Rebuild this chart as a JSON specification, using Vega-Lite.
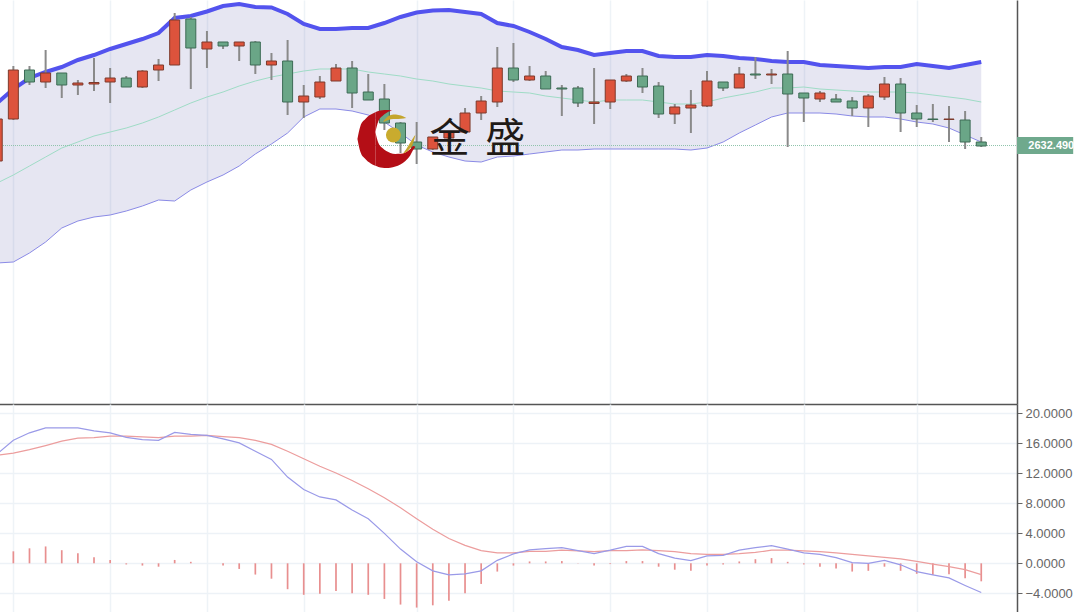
{"$schema":"https://vega.github.io/schema/vega-lite/v6.json","background":"white","padding":{"left":-2,"top":0,"right":0,"bottom":0},"spacing":0,"bounds":"flush","config":{"view":{"stroke":null},"axis":{"title":null}},
"datasets":{"k":[
{"i":0,"open":2624.75,"close":2645.75,"high":2645.75,"low":2624.75,"dir":"rise","upper":2653.75,"mid":2613.75,"lower":2573.75,"dif":14.6,"dea":14.4,"hist":1.2},
{"i":1,"open":2645.75,"close":2670.25,"high":2672.25,"low":2645.25,"dir":"rise","upper":2660.75,"mid":2617.75,"lower":2574.25,"dif":16.4,"dea":14.7,"hist":1.6},
{"i":2,"open":2670.25,"close":2664.25,"high":2672.25,"low":2662.75,"dir":"fall","upper":2666.25,"mid":2622.25,"lower":2578.75,"dif":17.4,"dea":15.15,"hist":2.0},
{"i":3,"open":2664.25,"close":2668.75,"high":2680.25,"low":2661.25,"dir":"rise","upper":2669.25,"mid":2626.75,"lower":2584.25,"dif":18.05,"dea":15.7,"hist":2.25},
{"i":4,"open":2668.75,"close":2662.75,"high":2668.75,"low":2656.25,"dir":"fall","upper":2671.75,"mid":2631.25,"lower":2591.25,"dif":18.05,"dea":16.3,"hist":1.75},
{"i":5,"open":2662.75,"close":2663.75,"high":2665.25,"low":2657.75,"dir":"rise","upper":2675.25,"mid":2634.25,"lower":2594.75,"dif":18.05,"dea":16.7,"hist":1.35},
{"i":6,"open":2663.25,"close":2664,"high":2676.25,"low":2659.75,"dir":"rise","upper":2677.75,"mid":2637.25,"lower":2596.75,"dif":17.65,"dea":16.75,"hist":0.8},
{"i":7,"open":2664.25,"close":2666.25,"high":2671.25,"low":2653.75,"dir":"rise","upper":2680.75,"mid":2639.25,"lower":2597.75,"dif":17.4,"dea":16.95,"hist":0.45},
{"i":8,"open":2666.25,"close":2661.75,"high":2667.25,"low":2661.75,"dir":"fall","upper":2683.25,"mid":2641.25,"lower":2599.75,"dif":16.8,"dea":16.95,"hist":-0.15},
{"i":9,"open":2661.75,"close":2669.75,"high":2670.25,"low":2661.25,"dir":"rise","upper":2685.75,"mid":2643.75,"lower":2602.25,"dif":16.5,"dea":16.85,"hist":-0.3},
{"i":10,"open":2670.25,"close":2672.75,"high":2675.75,"low":2664.75,"dir":"rise","upper":2688.75,"mid":2646.75,"lower":2605.25,"dif":16.4,"dea":16.75,"hist":-0.45},
{"i":11,"open":2672.75,"close":2695.25,"high":2698.75,"low":2672.75,"dir":"rise","upper":2696.25,"mid":2650.25,"lower":2604.75,"dif":17.45,"dea":16.95,"hist":0.45},
{"i":12,"open":2695.75,"close":2681.25,"high":2696.75,"low":2660.75,"dir":"fall","upper":2697.25,"mid":2653.75,"lower":2610.25,"dif":17.2,"dea":16.95,"hist":0.2},
{"i":13,"open":2680.75,"close":2684.25,"high":2689.75,"low":2671.25,"dir":"rise","upper":2699.5,"mid":2656.75,"lower":2614.25,"dif":17.05,"dea":17.05,"hist":0},
{"i":14,"open":2684.25,"close":2682.25,"high":2684.25,"low":2680.75,"dir":"fall","upper":2702.25,"mid":2659.25,"lower":2617.75,"dif":16.6,"dea":16.9,"hist":-0.3},
{"i":15,"open":2682.25,"close":2684.25,"high":2684.25,"low":2674.75,"dir":"rise","upper":2703.25,"mid":2662.25,"lower":2622.25,"dif":16.05,"dea":16.75,"hist":-0.75},
{"i":16,"open":2684.25,"close":2672.75,"high":2684.75,"low":2668.25,"dir":"fall","upper":2701.75,"mid":2664.75,"lower":2628.25,"dif":14.95,"dea":16.4,"hist":-1.5},
{"i":17,"open":2672.75,"close":2674.75,"high":2678.75,"low":2665.25,"dir":"rise","upper":2701.5,"mid":2666.75,"lower":2633.25,"dif":13.85,"dea":15.85,"hist":-2.05},
{"i":18,"open":2674.75,"close":2654.25,"high":2685.25,"low":2647.75,"dir":"fall","upper":2698.25,"mid":2668.25,"lower":2638.75,"dif":11.5,"dea":14.95,"hist":-3.45},
{"i":19,"open":2654.25,"close":2657.25,"high":2662.75,"low":2646.25,"dir":"rise","upper":2693.25,"mid":2669.75,"lower":2646.75,"dif":9.85,"dea":13.95,"hist":-4.2},
{"i":20,"open":2656.75,"close":2664.25,"high":2667.25,"low":2655.75,"dir":"rise","upper":2690.75,"mid":2670.75,"lower":2650.75,"dif":8.85,"dea":12.95,"hist":-4.05},
{"i":21,"open":2664.75,"close":2671.25,"high":2673.25,"low":2664.75,"dir":"rise","upper":2690.75,"mid":2670.75,"lower":2650.75,"dif":8.45,"dea":12.05,"hist":-3.7},
{"i":22,"open":2671.25,"close":2658.75,"high":2674.75,"low":2651.25,"dir":"fall","upper":2691.25,"mid":2670.75,"lower":2649.75,"dif":7.1,"dea":11.05,"hist":-4},
{"i":23,"open":2659.25,"close":2655.25,"high":2668.25,"low":2655.25,"dir":"fall","upper":2691.25,"mid":2669.25,"lower":2647.75,"dif":5.95,"dea":9.95,"hist":-4.2},
{"i":24,"open":2655.75,"close":2643.75,"high":2663.25,"low":2640.25,"dir":"fall","upper":2693.75,"mid":2668.25,"lower":2644.25,"dif":4.0,"dea":8.75,"hist":-4.75},
{"i":25,"open":2643.75,"close":2633.75,"high":2644.25,"low":2628.75,"dir":"fall","upper":2696.75,"mid":2667.25,"lower":2638.75,"dif":1.9,"dea":7.4,"hist":-5.5},
{"i":26,"open":2634.25,"close":2630.75,"high":2644.25,"low":2623.25,"dir":"fall","upper":2699,"mid":2665.75,"lower":2632.75,"dif":0.2,"dea":5.95,"hist":-5.9},
{"i":27,"open":2630.75,"close":2636.75,"high":2636.75,"low":2630.25,"dir":"rise","upper":2700,"mid":2664.75,"lower":2629.25,"dif":-1.0,"dea":4.55,"hist":-5.6},
{"i":28,"open":2636.25,"close":2639.25,"high":2639.25,"low":2636.25,"dir":"rise","upper":2700.25,"mid":2663.25,"lower":2626.75,"dif":-1.55,"dea":3.3,"hist":-5},
{"i":29,"open":2639.25,"close":2648.75,"high":2651.25,"low":2639.25,"dir":"rise","upper":2699.25,"mid":2662.25,"lower":2624.75,"dif":-1.4,"dea":2.4,"hist":-4},
{"i":30,"open":2648.75,"close":2654.75,"high":2657.25,"low":2645.25,"dir":"rise","upper":2698.25,"mid":2661.25,"lower":2624.25,"dif":-1.0,"dea":1.7,"hist":-2.75},
{"i":31,"open":2654.25,"close":2671.25,"high":2681.75,"low":2651.75,"dir":"rise","upper":2693.75,"mid":2659.75,"lower":2626.75,"dif":0.4,"dea":1.4,"hist":-1.1},
{"i":32,"open":2671.25,"close":2665.25,"high":2683.75,"low":2664.25,"dir":"fall","upper":2692.25,"mid":2659.25,"lower":2627.25,"dif":1.25,"dea":1.4,"hist":-0.3},
{"i":33,"open":2665.25,"close":2667.25,"high":2672.25,"low":2664.75,"dir":"rise","upper":2689.25,"mid":2658.75,"lower":2628.25,"dif":1.8,"dea":1.6,"hist":0.25},
{"i":34,"open":2667.25,"close":2660.75,"high":2669.75,"low":2660.75,"dir":"fall","upper":2685.75,"mid":2657.25,"lower":2629.25,"dif":1.95,"dea":1.6,"hist":0.25},
{"i":35,"open":2661.25,"close":2660.75,"high":2662.75,"low":2647.25,"dir":"fall","upper":2681.75,"mid":2656.25,"lower":2630.25,"dif":2.1,"dea":1.75,"hist":0.3},
{"i":36,"open":2661.25,"close":2653.75,"high":2662.25,"low":2651.75,"dir":"fall","upper":2680.25,"mid":2655.25,"lower":2630.25,"dif":1.7,"dea":1.65,"hist":0.05},
{"i":37,"open":2653.5,"close":2654.25,"high":2671.25,"low":2643.25,"dir":"rise","upper":2677.75,"mid":2654.25,"lower":2630.75,"dif":1.3,"dea":1.55,"hist":-0.3},
{"i":38,"open":2654.25,"close":2665.25,"high":2665.25,"low":2650.75,"dir":"rise","upper":2678.75,"mid":2655.25,"lower":2630.75,"dif":1.75,"dea":1.7,"hist":-0.1},
{"i":39,"open":2664.75,"close":2667.25,"high":2668.25,"low":2664.25,"dir":"rise","upper":2679.75,"mid":2655.25,"lower":2630.75,"dif":2.25,"dea":1.7,"hist":0.3},
{"i":40,"open":2667.25,"close":2661.75,"high":2671.25,"low":2658.75,"dir":"fall","upper":2679.75,"mid":2655.25,"lower":2630.75,"dif":2.25,"dea":1.8,"hist":0.3},
{"i":41,"open":2662.25,"close":2648.25,"high":2664.25,"low":2646.25,"dir":"fall","upper":2677.25,"mid":2654.25,"lower":2630.75,"dif":1.3,"dea":1.7,"hist":-0.45},
{"i":42,"open":2648.25,"close":2651.75,"high":2653.25,"low":2643.25,"dir":"rise","upper":2676.75,"mid":2653.25,"lower":2630.75,"dif":0.7,"dea":1.55,"hist":-0.85},
{"i":43,"open":2651.25,"close":2652.75,"high":2660.25,"low":2638.75,"dir":"rise","upper":2676.75,"mid":2653.25,"lower":2630.25,"dif":0.35,"dea":1.3,"hist":-1},
{"i":44,"open":2652.25,"close":2664.75,"high":2669.75,"low":2651.75,"dir":"rise","upper":2677.75,"mid":2654.25,"lower":2631.25,"dif":1.0,"dea":1.2,"hist":-0.3},
{"i":45,"open":2664.25,"close":2661.25,"high":2664.25,"low":2659.75,"dir":"fall","upper":2677.25,"mid":2656.25,"lower":2634.25,"dif":1.05,"dea":1.2,"hist":-0.15},
{"i":46,"open":2661.25,"close":2668.25,"high":2671.75,"low":2661.25,"dir":"rise","upper":2676.25,"mid":2657.75,"lower":2638.75,"dif":1.75,"dea":1.3,"hist":0.25},
{"i":47,"open":2668.25,"close":2667.75,"high":2676.75,"low":2665.75,"dir":"fall","upper":2675.75,"mid":2659.25,"lower":2642.75,"dif":2.1,"dea":1.45,"hist":0.55},
{"i":48,"open":2667.75,"close":2668.25,"high":2670.75,"low":2663.25,"dir":"rise","upper":2674.75,"mid":2661.25,"lower":2646.75,"dif":2.35,"dea":1.75,"hist":0.7},
{"i":49,"open":2668.25,"close":2658.25,"high":2679.75,"low":2631.75,"dir":"fall","upper":2674.25,"mid":2661.25,"lower":2648.75,"dif":1.9,"dea":1.75,"hist":0.2},
{"i":50,"open":2658.75,"close":2656.25,"high":2658.75,"low":2644.25,"dir":"fall","upper":2674.25,"mid":2661.75,"lower":2648.75,"dif":1.4,"dea":1.65,"hist":-0.15},
{"i":51,"open":2655.75,"close":2658.75,"high":2659.75,"low":2654.25,"dir":"rise","upper":2672.75,"mid":2660.75,"lower":2648.75,"dif":1.2,"dea":1.55,"hist":-0.45},
{"i":52,"open":2655.75,"close":2654.25,"high":2658.25,"low":2654.25,"dir":"fall","upper":2672.25,"mid":2660.25,"lower":2648.25,"dif":0.75,"dea":1.4,"hist":-0.7},
{"i":53,"open":2654.75,"close":2651.25,"high":2656.75,"low":2647.25,"dir":"fall","upper":2671.75,"mid":2659.75,"lower":2647.25,"dif":0.1,"dea":1.2,"hist":-1.1},
{"i":54,"open":2651.25,"close":2657.25,"high":2658.25,"low":2641.75,"dir":"rise","upper":2671.25,"mid":2659.25,"lower":2646.75,"dif":0,"dea":1,"hist":-1},
{"i":55,"open":2656.75,"close":2663.25,"high":2666.75,"low":2655.25,"dir":"rise","upper":2671.75,"mid":2659.25,"lower":2646.75,"dif":0.4,"dea":0.8,"hist":-0.45},
{"i":56,"open":2663.25,"close":2648.75,"high":2666.25,"low":2639.25,"dir":"fall","upper":2671.75,"mid":2659.25,"lower":2645.75,"dif":-0.2,"dea":0.6,"hist":-1},
{"i":57,"open":2648.75,"close":2645.75,"high":2652.75,"low":2641.75,"dir":"fall","upper":2673.25,"mid":2658.75,"lower":2644.25,"dif":-1.1,"dea":0.25,"hist":-1.4},
{"i":58,"open":2645.75,"close":2645.5,"high":2653.25,"low":2644.25,"dir":"fall","upper":2672.25,"mid":2657.75,"lower":2643.25,"dif":-1.55,"dea":-0.1,"hist":-1.55},
{"i":59,"open":2645.5,"close":2645.75,"high":2652.25,"low":2634.25,"dir":"rise","upper":2671.25,"mid":2656.75,"lower":2641.25,"dif":-1.95,"dea":-0.45,"hist":-1.45},
{"i":60,"open":2645.25,"close":2634.25,"high":2649.75,"low":2630.75,"dir":"fall","upper":2672.75,"mid":2655.75,"lower":2637.75,"dif":-2.95,"dea":-0.85,"hist":-2},
{"i":61,"open":2634.25,"close":2632.25,"high":2636.75,"low":2631.75,"dir":"fall","upper":2674.25,"mid":2654.25,"lower":2634.25,"dif":-3.9,"dea":-1.5,"hist":-2.4}
],
"crescent":[
{"piece":"left","i":22.33,"a":2635.75,"b":2635.75},{"piece":"left","i":22.51,"a":2642.15,"b":2629.35},{"piece":"left","i":22.82,"a":2645.75,"b":2625.75},{"piece":"left","i":23.13,"a":2647.85,"b":2623.65},{"piece":"left","i":23.44,"a":2649.15,"b":2622.35},
{"piece":"top","i":23.44,"a":2649.15,"b":2639.25},{"piece":"top","i":23.63,"a":2649.7,"b":2644.8},{"piece":"top","i":23.88,"a":2650.1,"b":2647.3},{"piece":"top","i":24.12,"a":2650.25,"b":2648.75},{"piece":"top","i":24.37,"a":2650.1,"b":2649.7},{"piece":"top","i":24.5,"a":2649.95,"b":2649.95},
{"piece":"bottom","i":23.44,"a":2639.25,"b":2622.35},{"piece":"bottom","i":23.63,"a":2633.7,"b":2621.8},{"piece":"bottom","i":23.88,"a":2631.2,"b":2621.4},{"piece":"bottom","i":24.12,"a":2629.75,"b":2621.25},{"piece":"bottom","i":24.37,"a":2628.8,"b":2621.4},{"piece":"bottom","i":24.68,"a":2628.3,"b":2621.95},{"piece":"bottom","i":24.99,"a":2628.35,"b":2623.05},{"piece":"bottom","i":25.3,"a":2629,"b":2624.8},{"piece":"bottom","i":25.61,"a":2630.75,"b":2627.6},{"piece":"bottom","i":25.8,"a":2632.25,"b":2630.45},{"piece":"bottom","i":25.92,"a":2631.75,"b":2631.75}],
"swoosh":[
{"piece":"upper","i":23.94,"a":2644.75,"b":2644.25},{"piece":"upper","i":24.25,"a":2647.25,"b":2645.25},{"piece":"upper","i":24.56,"a":2648,"b":2645.75},{"piece":"upper","i":24.87,"a":2647.75,"b":2645.75},{"piece":"upper","i":25.18,"a":2647,"b":2646},{"piece":"upper","i":25.36,"a":2646.25,"b":2646.25},
{"piece":"lower","i":25.18,"a":2628.75,"b":2628.5},{"piece":"lower","i":25.36,"a":2630.75,"b":2629.25},{"piece":"lower","i":25.55,"a":2633.25,"b":2630.75},{"piece":"lower","i":25.74,"a":2635.75,"b":2632.75},{"piece":"lower","i":25.86,"a":2637.25,"b":2635.75},{"piece":"lower","i":25.92,"a":2637.75,"b":2637.75}]
},
"vconcat":[
{"width":1018,"height":404,
"encoding":{"x":{"field":"i","type":"quantitative","scale":{"domain":[0.11,63.216],"nice":false,"zero":false,"padding":0},"axis":{"values":[1,7,13,19,26,32,38,44,50,57],"grid":true,"gridColor":"#eef3f7","gridWidth":1.5,"ticks":false,"labels":false,"domainColor":"#555555","domainWidth":1.5}}},
"layer":[
{"data":{"name":"k"},"mark":{"type":"area","color":"#3f3f9b","opacity":0.13,"clip":true},"encoding":{"y":{"field":"upper","type":"quantitative","scale":{"domain":[2503.25,2705.25],"nice":false,"zero":false},"axis":{"orient":"right","ticks":false,"labels":false,"grid":false,"domainColor":"#555555","domainWidth":1.5}},"y2":{"field":"lower"}}},
{"data":{"name":"k"},"mark":{"type":"line","color":"#9fdcc6","strokeWidth":1,"clip":true},"encoding":{"y":{"field":"mid","type":"quantitative"}}},
{"data":{"name":"k"},"mark":{"type":"line","color":"#8a8ae6","strokeWidth":1,"clip":true},"encoding":{"y":{"field":"lower","type":"quantitative"}}},
{"data":{"name":"k"},"mark":{"type":"line","color":"#5353ee","strokeWidth":4,"clip":true},"encoding":{"y":{"field":"upper","type":"quantitative"}}},
{"data":{"values":[{"last":2632.49}]},"mark":{"type":"rule","color":"#8fc4ab","strokeWidth":1,"strokeDash":[1,1]},"encoding":{"x":{"value":0},"x2":{"value":1018},"y":{"field":"last","type":"quantitative"}}},
{"data":{"name":"k"},"mark":{"type":"rule","color":"#8a8a8a","strokeWidth":2,"clip":true},"encoding":{"y":{"field":"high","type":"quantitative"},"y2":{"field":"low"}}},
{"data":{"name":"k"},"mark":{"type":"bar","width":10,"strokeWidth":1,"clip":true},"encoding":{"y":{"field":"open","type":"quantitative"},"y2":{"field":"close"},"fill":{"field":"dir","type":"nominal","legend":null,"scale":{"domain":["rise","fall"],"range":["#dd533c","#6aa687"]}},"stroke":{"field":"dir","type":"nominal","legend":null,"scale":{"domain":["rise","fall"],"range":["#7d3a2c","#3c6b55"]}}}},
{"data":{"name":"crescent"},"mark":{"type":"area","interpolate":"monotone","color":"#b40e16"},"encoding":{"y":{"field":"a","type":"quantitative"},"y2":{"field":"b"},"detail":{"field":"piece"}}},
{"data":{"name":"swoosh"},"mark":{"type":"area","interpolate":"monotone","color":"#c4a52c"},"encoding":{"y":{"field":"a","type":"quantitative"},"y2":{"field":"b"},"detail":{"field":"piece"}}},
{"data":{"values":[{"i":24.56,"p":2637.75}]},"mark":{"type":"circle","color":"#c9ab2e","size":225,"opacity":1},"encoding":{"y":{"field":"p","type":"quantitative"}}},
{"data":{"values":[{"i":28.03,"p":2635.25,"t":"金"},{"i":31.5,"p":2635.25,"t":"盛"}]},"mark":{"type":"text","font":"Noto Sans CJK SC","fontSize":40,"color":"#1f1a17","align":"center","baseline":"middle"},"encoding":{"y":{"field":"p","type":"quantitative"},"text":{"field":"t"}}},
{"data":{"values":[{"i":63.216,"i2":66.7,"a":2636.75,"b":2628.25}]},"mark":{"type":"rect","color":"#6fa98d"},"encoding":{"x2":{"field":"i2"},"y":{"field":"a","type":"quantitative"},"y2":{"field":"b"}}},
{"data":{"values":[{"i":63.92,"p":2632.49,"t":"2632.490"}]},"mark":{"type":"text","font":"Liberation Sans","fontWeight":"bold","fontSize":11,"color":"#ffffff","align":"left","baseline":"middle"},"encoding":{"y":{"field":"p","type":"quantitative"},"text":{"field":"t"}}}
]},
{"width":1018,"height":208,"data":{"name":"k"},
"encoding":{"x":{"field":"i","type":"quantitative","scale":{"domain":[0.11,63.216],"nice":false,"zero":false,"padding":0},"axis":{"values":[1,7,13,19,26,32,38,44,50,57],"grid":true,"gridColor":"#eef3f7","gridWidth":1.5,"ticks":false,"labels":false,"domain":false}}},
"layer":[
{"mark":{"type":"rule","color":"#e88f8f","strokeWidth":1.7,"clip":true},"encoding":{"y":{"field":"hist","type":"quantitative","scale":{"domain":[-6.49,21.24],"nice":false,"zero":false},"axis":{"orient":"right","values":[-4,0,4,8,12,16,20],"tickCount":20,"format":".4f","labelOverlap":false,"grid":true,"gridColor":"#edf2f7","gridWidth":1.5,"tickSize":5,"tickColor":"#666666","labelColor":"#666666","labelFont":"Liberation Sans","labelFontSize":13,"labelPadding":3,"domainColor":"#555555","domainWidth":1.5}},"y2":{"datum":0}}},
{"mark":{"type":"line","color":"#ec9d9d","strokeWidth":1.2,"clip":true},"encoding":{"y":{"field":"dea","type":"quantitative"}}},
{"mark":{"type":"line","color":"#9a9ae8","strokeWidth":1.2,"clip":true},"encoding":{"y":{"field":"dif","type":"quantitative"}}}
]}
]}
